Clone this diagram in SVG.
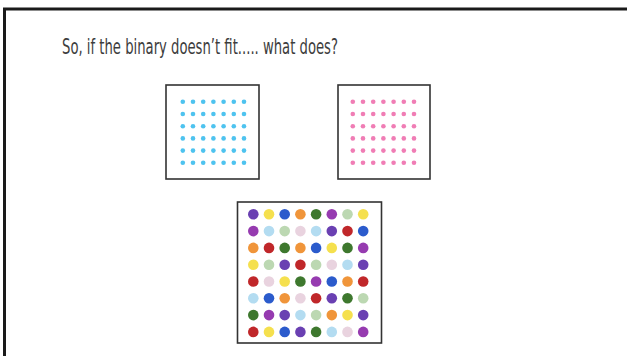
<svg xmlns="http://www.w3.org/2000/svg" width="627" height="356" viewBox="0 0 627 356">
<style>
.frame{fill:none;stroke:#1a1a1a;stroke-width:3}
.box{fill:#fff;stroke:#333;stroke-width:1.6}
.title{font-family:"Liberation Sans Narrow","DejaVu Sans Condensed","Liberation Sans",sans-serif;font-size:22px;fill:#3d3d3d}
.b{fill:#4ec3ef}
.p{fill:#f07db5}
.pu{fill:#6a40b2}.ye{fill:#f5e04e}.bl{fill:#2b5bcc}.or{fill:#f0953a}.dg{fill:#3e782e}.mg{fill:#963bb0}.lg{fill:#bcd8b2}.lb{fill:#b3dcf1}.pk{fill:#e9d3df}.rd{fill:#c0272a}
</style>
<defs>
<g id="row7b">
<circle cx="0" cy="0" r="2.3"/><circle cx="10.2" cy="0" r="2.3"/><circle cx="20.4" cy="0" r="2.3"/><circle cx="30.6" cy="0" r="2.3"/><circle cx="40.8" cy="0" r="2.3"/><circle cx="51" cy="0" r="2.3"/><circle cx="61.2" cy="0" r="2.3"/>
</g>
<g id="grid">
<use href="#row7b" y="0"/><use href="#row7b" y="12.2"/><use href="#row7b" y="24.4"/><use href="#row7b" y="36.6"/><use href="#row7b" y="48.8"/><use href="#row7b" y="61"/>
</g>
</defs>
<rect width="627" height="356" fill="#fff"/>
<path class="frame" d="M4.5,358 V9 H630"/>
<text class="title" x="62" y="54" textLength="276" lengthAdjust="spacingAndGlyphs">So, if the binary doesn’t fit..... what does?</text>
<g id="blue-box">
<rect class="box" x="166" y="85" width="93" height="94"/>
<use href="#grid" class="b" x="182.8" y="101.8"/>
</g>
<g id="pink-box">
<rect class="box" x="338" y="85" width="92" height="94"/>
<use href="#grid" class="p" x="352.8" y="101.8"/>
</g>
<g id="mixed-box">
<rect class="box" x="237.5" y="202" width="144" height="141"/>
<g transform="translate(253.3,214.3)">
<g>
<circle class="pu" cx="0" cy="0" r="5.3"/><circle class="ye" cx="15.7" cy="0" r="5.3"/><circle class="bl" cx="31.4" cy="0" r="5.3"/><circle class="or" cx="47.1" cy="0" r="5.3"/><circle class="dg" cx="62.8" cy="0" r="5.3"/><circle class="mg" cx="78.5" cy="0" r="5.3"/><circle class="lg" cx="94.2" cy="0" r="5.3"/><circle class="ye" cx="109.9" cy="0" r="5.3"/>
</g>
<g transform="translate(0,16.8)">
<circle class="mg" cx="0" cy="0" r="5.3"/><circle class="lb" cx="15.7" cy="0" r="5.3"/><circle class="lg" cx="31.4" cy="0" r="5.3"/><circle class="pk" cx="47.1" cy="0" r="5.3"/><circle class="lb" cx="62.8" cy="0" r="5.3"/><circle class="pu" cx="78.5" cy="0" r="5.3"/><circle class="rd" cx="94.2" cy="0" r="5.3"/><circle class="bl" cx="109.9" cy="0" r="5.3"/>
</g>
<g transform="translate(0,33.6)">
<circle class="or" cx="0" cy="0" r="5.3"/><circle class="rd" cx="15.7" cy="0" r="5.3"/><circle class="dg" cx="31.4" cy="0" r="5.3"/><circle class="or" cx="47.1" cy="0" r="5.3"/><circle class="bl" cx="62.8" cy="0" r="5.3"/><circle class="ye" cx="78.5" cy="0" r="5.3"/><circle class="dg" cx="94.2" cy="0" r="5.3"/><circle class="mg" cx="109.9" cy="0" r="5.3"/>
</g>
<g transform="translate(0,50.4)">
<circle class="ye" cx="0" cy="0" r="5.3"/><circle class="lg" cx="15.7" cy="0" r="5.3"/><circle class="pu" cx="31.4" cy="0" r="5.3"/><circle class="rd" cx="47.1" cy="0" r="5.3"/><circle class="lg" cx="62.8" cy="0" r="5.3"/><circle class="pk" cx="78.5" cy="0" r="5.3"/><circle class="lb" cx="94.2" cy="0" r="5.3"/><circle class="pu" cx="109.9" cy="0" r="5.3"/>
</g>
<g transform="translate(0,67.2)">
<circle class="rd" cx="0" cy="0" r="5.3"/><circle class="pk" cx="15.7" cy="0" r="5.3"/><circle class="ye" cx="31.4" cy="0" r="5.3"/><circle class="dg" cx="47.1" cy="0" r="5.3"/><circle class="mg" cx="62.8" cy="0" r="5.3"/><circle class="bl" cx="78.5" cy="0" r="5.3"/><circle class="or" cx="94.2" cy="0" r="5.3"/><circle class="rd" cx="109.9" cy="0" r="5.3"/>
</g>
<g transform="translate(0,84)">
<circle class="lb" cx="0" cy="0" r="5.3"/><circle class="bl" cx="15.7" cy="0" r="5.3"/><circle class="or" cx="31.4" cy="0" r="5.3"/><circle class="pk" cx="47.1" cy="0" r="5.3"/><circle class="rd" cx="62.8" cy="0" r="5.3"/><circle class="pu" cx="78.5" cy="0" r="5.3"/><circle class="dg" cx="94.2" cy="0" r="5.3"/><circle class="lg" cx="109.9" cy="0" r="5.3"/>
</g>
<g transform="translate(0,100.8)">
<circle class="dg" cx="0" cy="0" r="5.3"/><circle class="mg" cx="15.7" cy="0" r="5.3"/><circle class="pu" cx="31.4" cy="0" r="5.3"/><circle class="lb" cx="47.1" cy="0" r="5.3"/><circle class="lg" cx="62.8" cy="0" r="5.3"/><circle class="or" cx="78.5" cy="0" r="5.3"/><circle class="ye" cx="94.2" cy="0" r="5.3"/><circle class="pu" cx="109.9" cy="0" r="5.3"/>
</g>
<g transform="translate(0,117.6)">
<circle class="rd" cx="0" cy="0" r="5.3"/><circle class="ye" cx="15.7" cy="0" r="5.3"/><circle class="bl" cx="31.4" cy="0" r="5.3"/><circle class="pu" cx="47.1" cy="0" r="5.3"/><circle class="dg" cx="62.8" cy="0" r="5.3"/><circle class="lb" cx="78.5" cy="0" r="5.3"/><circle class="pk" cx="94.2" cy="0" r="5.3"/><circle class="mg" cx="109.9" cy="0" r="5.3"/>
</g>
</g>
</g>
</svg>
